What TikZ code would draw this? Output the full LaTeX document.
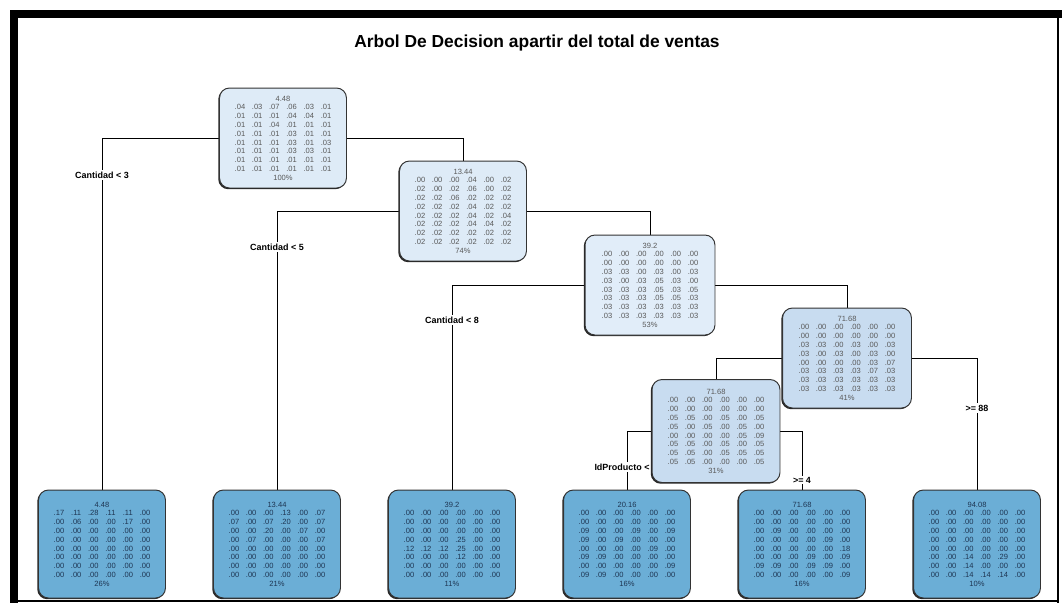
\documentclass[tikz,border=0pt]{standalone}
\usepackage{fontspec}
\setmainfont{Liberation Sans}
\usepackage{xcolor}
\usetikzlibrary{calc, positioning, backgrounds, shadows}

\definecolor{rootblue}{HTML}{DEEBF7}
\definecolor{midblue}{HTML}{E1EDF9}
\definecolor{deepblue}{HTML}{C8DCF0}
\definecolor{leafblue}{HTML}{6BAED6}
\definecolor{leaftext}{HTML}{1E3552}

\tikzset{
  inner/.style={rounded corners=0.2cm, draw=black!80, line width=0.55pt,
    minimum width=2.54cm, minimum height=2cm, inner sep=1pt, align=center,
    text=black!65, font=\fontsize{4.3}{5}\selectfont,
    general shadow={fill=black!85, shadow xshift=-0.7pt, shadow yshift=-0.7pt}},
  leaf/.style={inner, fill=leafblue, minimum height=2.16cm, text=leaftext},
  split/.style={fill=white, inner sep=0.8pt, font=\fontsize{5.1}{6}\bfseries\selectfont},
  branch/.style={line width=0.5pt}
}

\begin{document}
\begin{tikzpicture}[x=0.02cm, y=-0.02cm]
			% one row of six class probabilities
			\def\nr#1#2#3#4#5#6{\makebox[9.8pt]{#1}\makebox[9.8pt]{#2}\makebox[9.8pt]{#3}\makebox[9.8pt]{#4}\makebox[9.8pt]{#5}\makebox[9.8pt]{#6}}
			\def\zr{\nr{.00}{.00}{.00}{.00}{.00}{.00}}
			\useasboundingbox (0,0) rectangle (1062,603);
			
			% FRAME
			\fill[black] (10,10) rectangle (1062,18);
			\fill[black] (10,10) rectangle (18,603);
			\draw[line width=0.8pt] (1058,18) -- (1058,603);
			\draw[line width=0.8pt] (18,601) -- (1058,601);
			
			% TITLE
			\node[font=\fontsize{9.9}{11}\bfseries\selectfont] (title) at (537,43) {Arbol De Decision apartir del total de ventas};
			
			% SPLIT NODES
			\node[inner, fill=rootblue] (root) at (283,138) {4.48\\
				\nr{.04}{.03}{.07}{.06}{.03}{.01}\\
				\nr{.01}{.01}{.01}{.04}{.04}{.01}\\
				\nr{.01}{.01}{.04}{.01}{.01}{.01}\\
				\nr{.01}{.01}{.01}{.03}{.01}{.01}\\
				\nr{.01}{.01}{.01}{.03}{.01}{.03}\\
				\nr{.01}{.01}{.01}{.03}{.03}{.01}\\
				\nr{.01}{.01}{.01}{.01}{.01}{.01}\\
				\nr{.01}{.01}{.01}{.01}{.01}{.01}\\
				100\%};
			\node[inner, fill=rootblue] (cant5) at (463,211) {13.44\\
				\nr{.00}{.00}{.00}{.04}{.00}{.02}\\
				\nr{.02}{.00}{.02}{.06}{.00}{.02}\\
				\nr{.02}{.02}{.06}{.02}{.02}{.02}\\
				\nr{.02}{.02}{.02}{.04}{.02}{.02}\\
				\nr{.02}{.02}{.02}{.04}{.02}{.04}\\
				\nr{.02}{.02}{.02}{.04}{.04}{.02}\\
				\nr{.02}{.02}{.02}{.02}{.02}{.02}\\
				\nr{.02}{.02}{.02}{.02}{.02}{.02}\\
				74\%};
			\node[inner, fill=midblue, minimum width=2.6cm] (cant8) at (650,285) {39.2\\
				\zr\\
				\zr\\
				\nr{.03}{.03}{.00}{.03}{.00}{.03}\\
				\nr{.03}{.00}{.03}{.05}{.03}{.00}\\
				\nr{.03}{.03}{.03}{.05}{.03}{.05}\\
				\nr{.03}{.03}{.03}{.05}{.05}{.03}\\
				\nr{.03}{.03}{.03}{.03}{.03}{.03}\\
				\nr{.03}{.03}{.03}{.03}{.03}{.03}\\
				53\%};
			\node[inner, fill=deepblue, minimum width=2.58cm] (ge88) at (847,358) {71.68\\
				\zr\\
				\zr\\
				\nr{.03}{.03}{.00}{.03}{.00}{.03}\\
				\nr{.03}{.00}{.03}{.00}{.03}{.00}\\
				\nr{.00}{.00}{.00}{.00}{.03}{.07}\\
				\nr{.03}{.03}{.03}{.03}{.07}{.03}\\
				\nr{.03}{.03}{.03}{.03}{.03}{.03}\\
				\nr{.03}{.03}{.03}{.03}{.03}{.03}\\
				41\%};
			\node[inner, fill=deepblue, minimum width=2.56cm, minimum height=2.06cm] (idprod) at (716,431) {71.68\\
				\zr\\
				\zr\\
				\nr{.05}{.05}{.00}{.05}{.00}{.05}\\
				\nr{.05}{.00}{.05}{.00}{.05}{.00}\\
				\nr{.00}{.00}{.00}{.00}{.05}{.09}\\
				\nr{.05}{.05}{.00}{.05}{.00}{.05}\\
				\nr{.05}{.05}{.00}{.05}{.05}{.05}\\
				\nr{.05}{.05}{.00}{.00}{.00}{.05}\\
				31\%};
			
			% LEAVES
			\node[leaf] (leafA) at (102,544) {4.48\\
				\nr{.17}{.11}{.28}{.11}{.11}{.00}\\
				\nr{.00}{.06}{.00}{.00}{.17}{.00}\\
				\zr\\ \zr\\ \zr\\ \zr\\ \zr\\ \zr\\
				26\%};
			\node[leaf] (leafB) at (277,544) {13.44\\
				\nr{.00}{.00}{.00}{.13}{.00}{.07}\\
				\nr{.07}{.00}{.07}{.20}{.00}{.07}\\
				\nr{.00}{.00}{.20}{.00}{.07}{.00}\\
				\nr{.00}{.07}{.00}{.00}{.00}{.07}\\
				\zr\\ \zr\\ \zr\\ \zr\\
				21\%};
			\node[leaf] (leafC) at (452,544) {39.2\\
				\zr\\ \zr\\ \zr\\
				\nr{.00}{.00}{.00}{.25}{.00}{.00}\\
				\nr{.12}{.12}{.12}{.25}{.00}{.00}\\
				\nr{.00}{.00}{.00}{.12}{.00}{.00}\\
				\zr\\ \zr\\
				11\%};
			\node[leaf] (leafD) at (627,544) {20.16\\
				\zr\\ \zr\\
				\nr{.09}{.00}{.00}{.09}{.00}{.09}\\
				\nr{.09}{.00}{.09}{.00}{.00}{.00}\\
				\nr{.00}{.00}{.00}{.00}{.09}{.00}\\
				\nr{.09}{.09}{.00}{.00}{.00}{.00}\\
				\nr{.00}{.00}{.00}{.00}{.00}{.09}\\
				\nr{.09}{.09}{.00}{.00}{.00}{.00}\\
				16\%};
			\node[leaf] (leafE) at (802,544) {71.68\\
				\zr\\ \zr\\
				\nr{.00}{.09}{.00}{.00}{.00}{.00}\\
				\nr{.00}{.00}{.00}{.00}{.09}{.00}\\
				\nr{.00}{.00}{.00}{.00}{.00}{.18}\\
				\nr{.00}{.00}{.00}{.09}{.00}{.09}\\
				\nr{.09}{.09}{.00}{.09}{.09}{.00}\\
				\nr{.00}{.00}{.00}{.00}{.00}{.09}\\
				16\%};
			\node[leaf] (leafF) at (977,544) {94.08\\
				\zr\\ \zr\\ \zr\\ \zr\\ \zr\\
				\nr{.00}{.00}{.14}{.00}{.29}{.00}\\
				\nr{.00}{.00}{.14}{.00}{.00}{.00}\\
				\nr{.00}{.00}{.14}{.14}{.14}{.00}\\
				10\%};
			
			\begin{scope}[on background layer]
				% BRANCHES
				\draw[branch] (leafA.north) |- (root.west);
				\draw[branch] (root.east) -| (cant5.north);
				\draw[branch] (leafB.north) |- (cant5.west);
				\draw[branch] (cant5.east) -| (cant8.north);
				\draw[branch] (leafC.north) |- (cant8.west);
				\draw[branch] (cant8.east) -| (ge88.north);
				\draw[branch] (idprod.north) |- (ge88.west);
				\draw[branch] (ge88.east) -| (leafF.north);
				\draw[branch] (leafD.north) |- (idprod.west);
				\draw[branch] (idprod.east) -| (leafE.north);
				
				% SPLIT LABELS
				\node[split] (lbA) at (102,175) {Cantidad < 3};
				\node[split] (lbB) at (277,247) {Cantidad < 5};
				\node[split] (lbC) at (452,320) {Cantidad < 8};
				\node[split] (lbF) at (977,408) {>= 88};
				\node[split] (lbD) at (622,467) {IdProducto <};
				\node[split] (lbE) at (802,480) {>= 4};
			\end{scope}
		\end{tikzpicture}
\end{document}
